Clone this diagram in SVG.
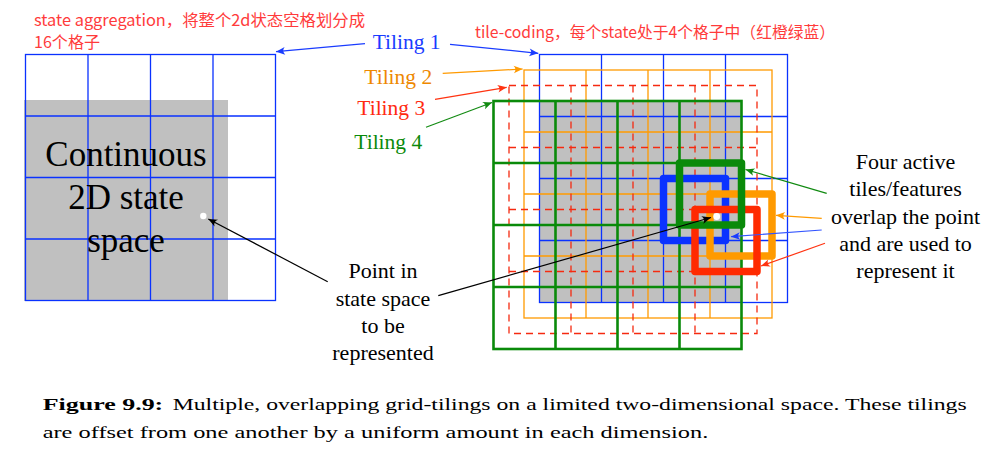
<svg xmlns="http://www.w3.org/2000/svg" width="1003" height="458" viewBox="0 0 1003 458">
<style>
.bl{stroke:#0a32ff;stroke-width:1.3;fill:none}
.or{stroke:#ff9a00;stroke-width:1.3;fill:none}
.rd{stroke:#f52a10;stroke-width:1.3;fill:none;stroke-dasharray:7 5}
.gr{stroke:#0a8a0a;stroke-width:2.6;fill:none}
.act{fill:none;stroke-width:7.5;stroke-linejoin:round}
.cn{fill:#ff3b3b;font-size:16px}
.arr{fill:none;stroke-width:1.2}
</style>
<defs>
<marker id="mB" markerUnits="userSpaceOnUse" markerWidth="12" markerHeight="10" refX="0" refY="0" viewBox="-10 -5 12 10" orient="auto"><path d="M0,0 L-9,-3.8 Q-5.5,0 -9,3.8 Z" fill="#1a3cff"/></marker>
<marker id="mO" markerUnits="userSpaceOnUse" markerWidth="12" markerHeight="10" refX="0" refY="0" viewBox="-10 -5 12 10" orient="auto"><path d="M0,0 L-9,-3.8 Q-5.5,0 -9,3.8 Z" fill="#ff9a00"/></marker>
<marker id="mR" markerUnits="userSpaceOnUse" markerWidth="12" markerHeight="10" refX="0" refY="0" viewBox="-10 -5 12 10" orient="auto"><path d="M0,0 L-9,-3.8 Q-5.5,0 -9,3.8 Z" fill="#ff3311"/></marker>
<marker id="mG" markerUnits="userSpaceOnUse" markerWidth="12" markerHeight="10" refX="0" refY="0" viewBox="-10 -5 12 10" orient="auto"><path d="M0,0 L-9,-3.8 Q-5.5,0 -9,3.8 Z" fill="#118a11"/></marker>
<marker id="mK" markerUnits="userSpaceOnUse" markerWidth="12" markerHeight="10" refX="0" refY="0" viewBox="-10 -5 12 10" orient="auto"><path d="M0,0 L-9,-3.8 Q-5.5,0 -9,3.8 Z" fill="#000"/></marker>
</defs>
<rect width="1003" height="458" fill="#fff"/>

<g id="annotations" font-family="Noto Sans CJK SC, Noto Sans, sans-serif">
<text class="cn" x="34" y="26" textLength="331" lengthAdjust="spacingAndGlyphs">state aggregation，将整个2d状态空格划分成</text>
<text class="cn" x="34" y="48" textLength="66" lengthAdjust="spacingAndGlyphs">16个格子</text>
<text class="cn" x="475" y="38" textLength="360" lengthAdjust="spacingAndGlyphs">tile-coding，每个state处于4个格子中（红橙绿蓝）</text>
</g>

<g id="left-space">
<rect x="24" y="100" width="204" height="201" fill="#c0c0c0"/>
<rect class="bl" x="25.5" y="54.5" width="250" height="246"/>
<path class="bl" d="M88,54.5V300.5M150.5,54.5V300.5M213,54.5V300.5M25.5,116H275.5M25.5,177.5H275.5M25.5,239H275.5"/>
<text font-family="Liberation Serif, Times New Roman, serif" fill="#000" font-size="35" text-anchor="middle"><tspan x="126" y="166">Continuous</tspan><tspan x="126" y="209">2D state</tspan><tspan x="126" y="252">space</tspan></text>
<circle cx="203.3" cy="216" r="3.2" fill="#fff"/>
</g>

<g id="right-space">
<rect x="540" y="101" width="202" height="202" fill="#c0c0c0"/>
</g>

<g id="tiling1">
<rect class="bl" x="539.5" y="54.5" width="248" height="248"/>
<path class="bl" d="M601.5,54.5V302.5M663.5,54.5V302.5M725.5,54.5V302.5M539.5,116.5H787.5M539.5,178.5H787.5M539.5,240.5H787.5"/>
</g>
<g id="tiling2">
<rect class="or" x="524" y="70" width="248" height="248"/>
<path class="or" d="M586,70V318M648,70V318M710,70V318M524,132H772M524,194H772M524,256H772"/>
</g>
<g id="tiling3">
<rect class="rd" x="509" y="85.5" width="248" height="248"/>
<path class="rd" d="M571,85.5V333.5M633,85.5V333.5M695,85.5V333.5M509,147.5H757M509,209.5H757M509,271.5H757"/>
</g>
<g id="tiling4">
<rect class="gr" x="493.5" y="101" width="248" height="248"/>
<path class="gr" d="M555.5,101V349M617.5,101V349M679.5,101V349M493.5,163H741.5M493.5,225H741.5M493.5,287H741.5"/>
</g>

<g id="active-tiles">
<rect class="act" stroke="#0a32ff" x="663.5" y="178.5" width="62" height="62"/>
<rect class="act" stroke="#ff9a00" x="710" y="194" width="62" height="62"/>
<rect class="act" stroke="#ff2a00" x="695" y="209.5" width="62" height="62"/>
<rect class="act" stroke="#0a8a0a" x="679.5" y="163" width="62" height="62"/>
<circle cx="716.7" cy="216.5" r="3.4" fill="#fff"/>
</g>

<g id="labels" font-family="Liberation Serif, Times New Roman, serif">
<text font-size="21.5" x="372.7" y="49" fill="#1a3cff">Tiling 1</text>
<text font-size="21.5" x="364.3" y="84" fill="#ee8800">Tiling 2</text>
<text font-size="21.5" x="357.3" y="115" fill="#ff2a10">Tiling 3</text>
<text font-size="21.5" x="354.3" y="149" fill="#0a8a0a">Tiling 4</text>
<text font-size="22" fill="#000" text-anchor="middle"><tspan x="383" y="278">Point in</tspan><tspan x="383" y="305.5">state space</tspan><tspan x="383" y="333">to be</tspan><tspan x="383" y="360">represented</tspan></text>
<text font-size="22" fill="#000" text-anchor="middle"><tspan x="905.5" y="169">Four active</tspan><tspan x="905.5" y="196.3">tiles/features</tspan><tspan x="905.5" y="223.6">overlap the point</tspan><tspan x="905.5" y="251">and are used to</tspan><tspan x="905.5" y="278.3">represent it</tspan></text>
</g>

<g id="connectors">
<line class="arr" stroke="#1a3cff" x1="365" y1="43.7" x2="276" y2="51.7" marker-end="url(#mB)"/>
<line class="arr" stroke="#1a3cff" x1="450" y1="44.3" x2="538.3" y2="53.3" marker-end="url(#mB)"/>
<line class="arr" stroke="#ff9a00" x1="442.7" y1="73.3" x2="522.7" y2="69" marker-end="url(#mO)"/>
<line class="arr" stroke="#ff3311" x1="435" y1="99.3" x2="506.7" y2="87.3" marker-end="url(#mR)"/>
<line class="arr" stroke="#118a11" x1="426" y1="127.3" x2="492" y2="102.5" marker-end="url(#mG)"/>
<line class="arr" stroke="#000" x1="327.7" y1="281.7" x2="208.3" y2="219" marker-end="url(#mK)"/>
<line class="arr" stroke="#000" x1="438.3" y1="295.7" x2="711" y2="217.5" marker-end="url(#mK)"/>
<line class="arr" stroke="#118a11" x1="826.7" y1="193.3" x2="745.5" y2="169.5" marker-end="url(#mG)"/>
<line class="arr" stroke="#ff9a00" x1="821.7" y1="218.3" x2="776" y2="215.3" marker-end="url(#mO)"/>
<line class="arr" stroke="#3355ff" x1="821.7" y1="230" x2="731" y2="236.7" marker-end="url(#mB)"/>
<line class="arr" stroke="#ff3311" x1="825" y1="243.3" x2="761" y2="266" marker-end="url(#mR)"/>
</g>

<g id="caption" font-family="Liberation Serif, Times New Roman, serif" font-size="17.5" fill="#000">
<text x="42.7" y="410" font-weight="bold" textLength="120.6" lengthAdjust="spacingAndGlyphs">Figure 9.9:</text>
<text x="172.7" y="410" textLength="794" lengthAdjust="spacingAndGlyphs">Multiple, overlapping grid-tilings on a limited two-dimensional space. These tilings</text>
<text x="42.7" y="438" textLength="665.6" lengthAdjust="spacingAndGlyphs">are offset from one another by a uniform amount in each dimension.</text>
</g>
</svg>
